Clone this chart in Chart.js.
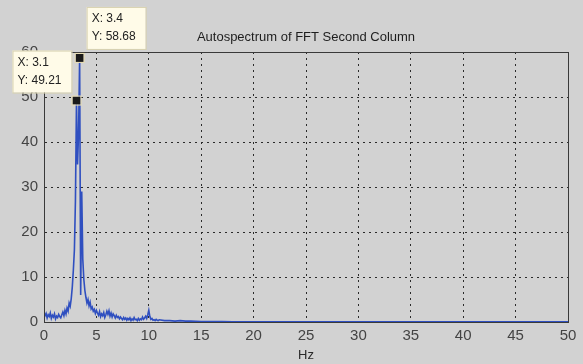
<!DOCTYPE html>
<html>
<head>
<meta charset="utf-8">
<script src="https://cdn.jsdelivr.net/npm/chart.js@4"></script>
<style>
  html, body { margin: 0; padding: 0; background: #d2d2d2; }
  #wrap { width: 583px; height: 364px; }
</style>
</head>
<body>
<div id="wrap"><canvas id="spec" width="583" height="364"></canvas></div>
<script>
// Autospectrum of FFT, second column
const freqHz = [
  0.0, 0.1, 0.2, 0.3, 0.4, 0.5, 0.6, 0.7, 0.8, 0.9,
  1.0, 1.1, 1.2, 1.3, 1.4, 1.5, 1.6, 1.7, 1.8, 1.9,
  2.0, 2.1, 2.2, 2.3, 2.4, 2.5, 2.6, 2.7, 2.8, 2.9,
  3.0, 3.1, 3.2, 3.3, 3.4, 3.5, 3.6, 3.7, 3.8, 3.9,
  4.0, 4.1, 4.2, 4.3, 4.4, 4.5, 4.6, 4.7, 4.8, 4.9,
  5.0, 5.1, 5.2, 5.3, 5.4, 5.5, 5.6, 5.7, 5.8, 5.9,
  6.0, 6.1, 6.2, 6.3, 6.4, 6.5, 6.6, 6.7, 6.8, 6.9,
  7.0, 7.1, 7.2, 7.3, 7.4, 7.5, 7.6, 7.7, 7.8, 7.9,
  8.0, 8.1, 8.2, 8.3, 8.4, 8.5, 8.6, 8.7, 8.8, 8.9,
  9.0, 9.1, 9.2, 9.3, 9.4, 9.5, 9.6, 9.7, 9.8, 9.9,
  10.0, 10.1, 10.2, 10.3, 10.4, 10.5, 10.6, 10.7, 10.8, 10.9,
  11.0, 11.5, 12.0, 12.5, 13.0, 13.5, 14.0, 14.5, 15.0, 16.0,
  17.0, 18.0, 20.0, 22.0, 25.0, 28.0, 30.0, 33.0, 35.0, 38.0,
  40.0, 43.0, 45.0, 48.0, 50.0
];
const amplitude = [
  2.1, 1.4, 1.9, 0.9, 1.6, 1.2, 2.0, 0.8, 1.5, 1.1,
  1.8, 0.7, 1.3, 1.0, 1.7, 1.2, 0.9, 1.6, 2.2, 1.4,
  2.6, 1.8, 3.1, 2.4, 4.2, 3.5, 5.2, 7.8, 11.5, 16.0,
  27.0, 49.21, 35.0, 42.0, 58.68, 6.0, 29.0, 14.0, 9.5, 7.0,
  5.5, 4.2, 5.0, 3.6, 4.4, 2.9, 3.3, 2.4, 2.8, 1.9,
  2.6, 2.0, 1.5, 2.3, 1.2, 1.8, 1.4, 2.1, 1.0, 1.6,
  2.4, 1.7, 2.5, 1.3, 2.0, 1.1, 1.8, 1.4, 0.9, 1.5,
  1.0, 1.2, 0.7, 1.1, 0.8, 0.5, 1.0, 0.6, 0.9, 0.4,
  0.8, 0.5, 0.9, 0.3, 0.7, 0.4, 1.0, 0.5, 0.6, 0.3,
  0.8, 0.4, 0.7, 0.5, 1.1, 0.6, 0.9, 1.3, 0.8, 1.6,
  2.6, 1.2, 0.6, 0.8, 0.4, 0.5, 0.3, 0.6, 0.4, 0.3,
  0.5, 0.3, 0.3, 0.2, 0.3, 0.2, 0.2, 0.15, 0.12, 0.1,
  0.08, 0.06, 0.05, 0.05, 0.04, 0.04, 0.03, 0.03, 0.03, 0.02,
  0.02, 0.02, 0.02, 0.02, 0.02
];
const xTicks = [0, 5, 10, 15, 20, 25, 30, 35, 40, 45, 50];
const yTicks = [0, 10, 20, 30, 40, 50, 60];
const dataTips = [
  { x: 3.4, y: 58.68, side: 'right' },
  { x: 3.1, y: 49.21, side: 'left' }
];

const points = freqHz.map((f, i) => ({ x: f, y: amplitude[i] }));

// box around the axes, title and the MATLAB-style data tips
const matlabDecor = {
  id: 'matlabDecor',
  afterDatasetsDraw(chart) {
    const { ctx, chartArea: a } = chart;
    ctx.save();
    ctx.strokeStyle = '#3a3a3a';
    ctx.lineWidth = 1;
    ctx.strokeRect(a.left + 0.5, a.top + 0.5, a.right - a.left, a.bottom - a.top);
    ctx.restore();
  },
  afterDraw(chart) {
    const { ctx, chartArea: a, scales } = chart;
    ctx.save();
    ctx.fillStyle = '#1e1e1e';
    ctx.font = '13px "Liberation Sans", Arial, sans-serif';
    ctx.textAlign = 'center';
    ctx.textBaseline = 'middle';
    ctx.fillText('Autospectrum of FFT Second Column', (a.left + a.right) / 2, 37);

    ctx.font = '12px "Liberation Sans", Arial, sans-serif';
    ctx.textAlign = 'left';
    dataTips.forEach(t => {
      const px = scales.x.getPixelForValue(t.x);
      const py = scales.y.getPixelForValue(t.y);
      const w = 59, h = 42;
      let bx, by;
      if (t.side === 'right') { bx = px + 7; by = py - 51; }
      else { bx = px - 64; by = py - 50; }
      ctx.fillStyle = '#fffbe8';
      ctx.fillRect(bx, by, w, h);
      ctx.strokeStyle = '#d8d2b0';
      ctx.strokeRect(bx + 0.5, by + 0.5, w, h);
      ctx.fillStyle = '#222';
      ctx.fillText('X: ' + t.x, bx + 5, by + 12);
      ctx.fillText('Y: ' + t.y, bx + 5, by + 30);
      // marker
      ctx.fillStyle = '#1a1a1a';
      ctx.fillRect(px - 4, py - 4, 8, 8);
      ctx.strokeStyle = '#e8dcb0';
      ctx.strokeRect(px - 4.5, py - 4.5, 9, 9);
    });
    ctx.restore();
  }
};

const tickFont = { family: '"Liberation Sans", Arial, sans-serif', size: 15 };

new Chart(document.getElementById('spec'), {
  type: 'line',
  data: {
    datasets: [{
      data: points,
      borderColor: '#2f4fc0',
      borderWidth: 1.6,
      pointRadius: 0,
      tension: 0,
      fill: false
    }]
  },
  options: {
    responsive: false,
    animation: false,
    layout: { padding: { top: 52, right: 15, left: 0, bottom: 0 } },
    plugins: {
      legend: { display: false },
      tooltip: { enabled: false }
    },
    scales: {
      x: {
        type: 'linear',
        min: 0,
        max: 50,
        afterBuildTicks: s => { s.ticks = xTicks.map(v => ({ value: v })); },
        afterFit: s => { s.height = 42; },
        grid: { color: '#2a2a2a', lineWidth: 1, drawTicks: false },
        border: { display: true, color: '#3a3a3a', dash: [2, 4] },
        ticks: { color: '#444', font: tickFont, padding: 5, maxRotation: 0 },
        title: { display: true, text: 'Hz', color: '#2a2a2a', font: { family: '"Liberation Sans", Arial, sans-serif', size: 13 }, padding: { top: 0, bottom: 1 } }
      },
      y: {
        min: 0,
        max: 60,
        afterBuildTicks: s => { s.ticks = yTicks.map(v => ({ value: v })); },
        afterFit: s => { s.width = 44; },
        grid: { color: '#2a2a2a', lineWidth: 1, drawTicks: false },
        border: { display: true, color: '#3a3a3a', dash: [2, 4] },
        ticks: { color: '#444', font: tickFont, padding: 6 }
      }
    }
  },
  plugins: [matlabDecor]
});
</script>
</body>
</html>
